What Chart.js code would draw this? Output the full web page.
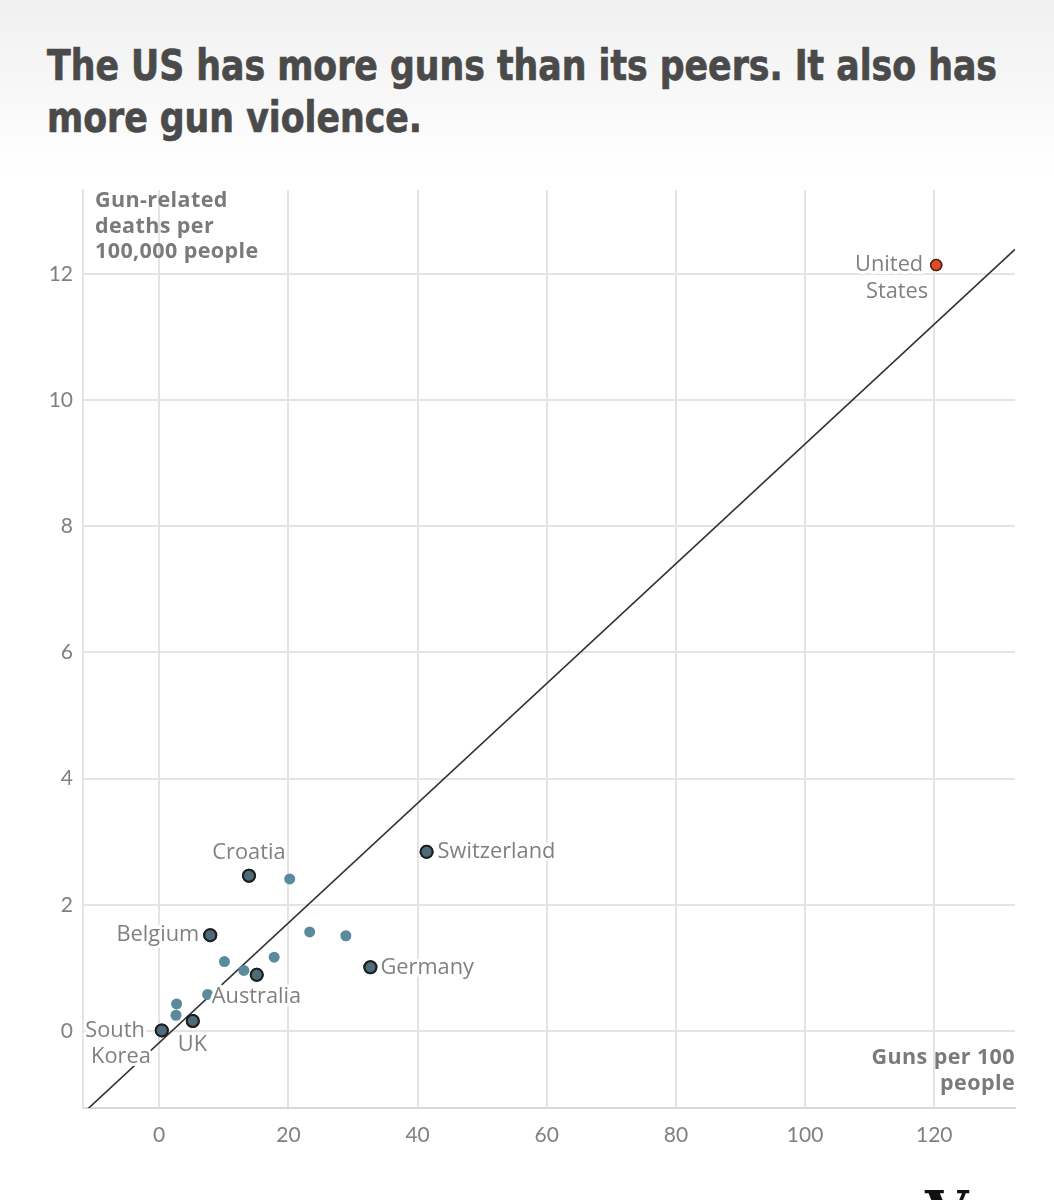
<!DOCTYPE html>
<html><head><meta charset="utf-8">
<script src="https://cdn.jsdelivr.net/npm/chart.js@4.4.1/dist/chart.umd.min.js"></script>
<style>
html,body{margin:0;padding:0;width:1054px;height:1200px;overflow:hidden;}
body{background:linear-gradient(#f0f0f0 0px,#ffffff 175px) no-repeat,#fff;position:relative;font-family:Lato,sans-serif;}
#title{position:absolute;left:47px;top:39px;margin:0;font-family:"DejaVu Sans Condensed","DejaVu Sans",sans-serif;font-stretch:condensed;font-weight:700;font-size:43px;line-height:52px;color:#4a4a4a;-webkit-text-stroke:0.7px #4a4a4a;}
#title span{display:inline-block;white-space:nowrap;transform-origin:0 50%;}
#c{position:absolute;left:0;top:0;}
.axt{position:absolute;font-family:"Open Sans",sans-serif;font-weight:700;font-size:21.5px;line-height:25.5px;color:#7a7a7a;letter-spacing:0.4px;}
#ytitle{left:95px;top:186px;}
#xtitle{right:39px;top:1043px;text-align:right;}
#logo{position:absolute;left:925px;top:1178px;font-family:"DejaVu Serif",serif;font-weight:700;font-size:56px;color:#111;}
</style></head>
<body>
<h1 id="title"><span id="t1">The US has more guns than its peers. It also has</span><br><span id="t2">more gun violence.</span></h1>
<canvas id="c" width="1054" height="1200"></canvas>
<div class="axt" id="ytitle">Gun-related<br>deaths per<br>100,000 people</div>
<div class="axt" id="xtitle">Guns per 100<br>people</div>
<div id="logo">V</div>
<script>
// Labeled peer countries
const countries = ["Croatia","Switzerland","Belgium","Germany","Australia","South Korea","UK"];
const countryGuns = [13.9, 41.4, 7.9, 32.7, 15.1, 0.4, 5.2];
const countryDeaths = [2.46, 2.84, 1.52, 1.01, 0.89, 0.01, 0.16];
// Unlabeled peer countries
const otherGuns = [20.2, 23.3, 28.9, 10.1, 17.8, 13.1, 7.5, 2.7, 2.6];
const otherDeaths = [2.41, 1.57, 1.51, 1.10, 1.17, 0.96, 0.58, 0.43, 0.25];
// United States
const usName = ["United","States"];
const usGuns = [120.3];
const usDeaths = [12.14];
// Trend line endpoints
const trendGuns = [-11.8, 132.5];
const trendDeaths = [-1.305, 12.39];
// Axis ticks
const xTicks = [0,20,40,60,80,100,120];
const yTicks = [0,2,4,6,8,10,12];

// fit title line width to reference (~950px)
(function(){
  const t1 = document.getElementById('t1'), t2 = document.getElementById('t2');
  const w = t1.getBoundingClientRect().width;
  const s = 950 / w;
  t1.style.transform = 'scaleX(' + s + ')';
  t2.style.transform = 'scaleX(' + s + ')';
})();

// label placement (style only)
const labelPlace = {
  "Croatia":     {align:"center", lines:[["Croatia",0,-23]]},
  "Switzerland": {align:"left",   lines:[["Switzerland",11,0]]},
  "Belgium":     {align:"right",  lines:[["Belgium",-11,0]]},
  "Germany":     {align:"left",   lines:[["Germany",10,0]]},
  "Australia":   {align:"left",   lines:[["Australia",-45,22]]},
  "South Korea": {align:"right",  lines:[["South",-17,0],["Korea",-11,26]]},
  "UK":          {align:"left",   lines:[["UK",-15,24]]}
};
const usPlace = {align:"right", lines:[[usName[0],-13,0],[usName[1],-8,27]]};

const pts = (xs, ys) => xs.map((x,i)=>({x:x, y:ys[i]}));

const labelPlugin = {
  id:'labels',
  afterDatasetsDraw(chart){
    const ctx = chart.ctx;
    const xs = chart.scales.x, ys = chart.scales.y;
    ctx.save();
    ctx.font = '21.8px "Open Sans", sans-serif';
    ctx.textBaseline = 'middle';
    ctx.lineJoin = 'round';
    const draw = (px, py, place) => {
      ctx.textAlign = place.align;
      place.lines.forEach(([t,dx,dy])=>{
        ctx.strokeStyle = '#ffffff'; ctx.lineWidth = 6;
        ctx.strokeText(t, px+dx, py+dy);
        ctx.fillStyle = '#808080';
        ctx.fillText(t, px+dx, py+dy);
      });
    };
    countries.forEach((c,i)=>{
      draw(xs.getPixelForValue(countryGuns[i]), ys.getPixelForValue(countryDeaths[i]), labelPlace[c]);
    });
    draw(xs.getPixelForValue(usGuns[0]), ys.getPixelForValue(usDeaths[0]), usPlace);
    ctx.restore();
    // redraw highlighted points on top of label halos
    chart.getSortedVisibleDatasetMetas().forEach(m=>{
      if (m.index === 0 || m.index === 1) m.controller.draw();
    });
  }
};

new Chart(document.getElementById('c'), {
  type:'scatter',
  data:{datasets:[
    {label:'US', data:pts(usGuns,usDeaths), backgroundColor:'#df4a27', borderColor:'#4a2418', borderWidth:1.5, pointRadius:5.5},
    {label:'Labeled', data:pts(countryGuns,countryDeaths), backgroundColor:'#4c6c79', borderColor:'#1d1d1d', borderWidth:2, pointRadius:6},
    {label:'Others', data:pts(otherGuns,otherDeaths), backgroundColor:'#5a8b9c', borderWidth:0, pointRadius:5.5},
    {label:'Trend', data:pts(trendGuns,trendDeaths), showLine:true, borderColor:'#333333', borderWidth:1.6, pointRadius:0, fill:false}
  ]},
  options:{
    responsive:false, animation:false, events:[],
    layout:{padding:{top:190,right:39,left:0,bottom:0}},
    plugins:{legend:{display:false}, tooltip:{enabled:false}},
    scales:{
      x:{type:'linear', min:-11.8, max:132.5,
        afterBuildTicks:s=>{s.ticks = xTicks.map(v=>({value:v}));},
        afterFit:s=>{s.height = 92;},
        grid:{color:'#e4e4e4', lineWidth:2, drawTicks:false},
        border:{color:'#d8d8d8', width:2},
        ticks:{padding:15, color:'#808080', font:{family:'Lato', size:21}}
      },
      y:{type:'linear', min:-1.22, max:13.33,
        afterBuildTicks:s=>{s.ticks = yTicks.map(v=>({value:v}));},
        afterFit:s=>{s.width = 83;},
        grid:{color:'#e4e4e4', lineWidth:2, drawTicks:false},
        border:{color:'#e4e4e4', width:2},
        ticks:{padding:10, color:'#808080', font:{family:'Lato', size:21}}
      }
    }
  },
  plugins:[labelPlugin]
});
</script>
</body></html>
